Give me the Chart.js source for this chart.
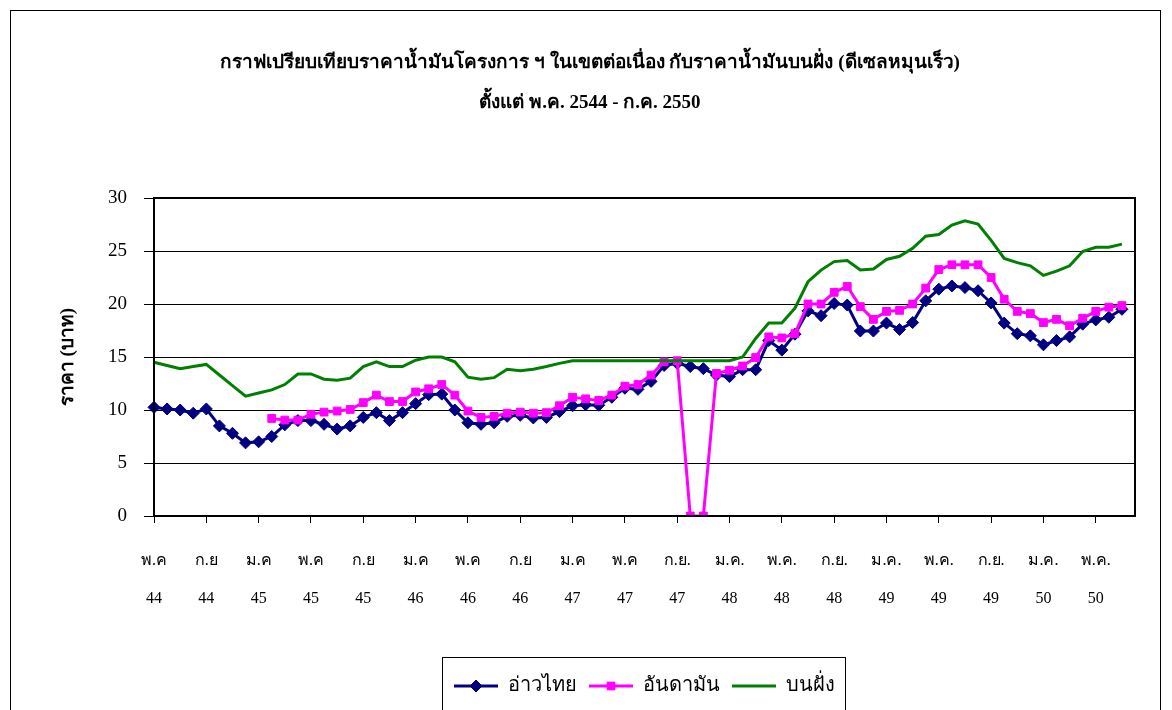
<!DOCTYPE html>
<html>
<head>
<meta charset="utf-8">
<script src="https://cdn.jsdelivr.net/npm/chart.js@4.4.1/dist/chart.umd.min.js"></script>
<style>
    html, body { margin: 0; padding: 0; background: #fff; }
</style>
</head>
<body>
<canvas id="oil-chart" width="1172" height="710"></canvas>
<script>
// monthly prices, May 2544 .. Jul 2550 (75 months)
const gulfThai = [
    10.25, 10.1, 10.0, 9.7, 10.1, 8.5, 7.8, 6.9, 7.0, 7.5,
    8.6, 9.0, 9.0, 8.65, 8.2, 8.5, 9.3, 9.75, 9.0, 9.75,
    10.6, 11.45, 11.5, 10.0, 8.8, 8.65, 8.8, 9.4, 9.5, 9.25,
    9.3, 9.85, 10.4, 10.5, 10.45, 11.2, 12.05, 11.95, 12.7, 14.2,
    14.4, 14.1, 13.9, 13.3, 13.15, 13.8, 13.8, 16.55, 15.65, 17.15,
    19.35, 18.9, 20.05, 19.9, 17.45, 17.45, 18.2, 17.6, 18.25, 20.3,
    21.4, 21.7, 21.55, 21.25, 20.1, 18.2, 17.2, 17.0, 16.15, 16.55,
    16.9, 18.1, 18.5, 18.75, 19.5
];

const andaman = [
    null, null, null, null, null, null, null, null, null, 9.2,
    9.05, 9.05, 9.6, 9.8, 9.9, 10.05, 10.7, 11.4, 10.8, 10.8,
    11.7, 12.0, 12.4, 11.4, 9.9, 9.3, 9.4, 9.7, 9.8, 9.7,
    9.75, 10.4, 11.2, 11.05, 10.9, 11.4, 12.25, 12.4, 13.3, 14.55,
    14.65, 0, 0, 13.45, 13.75, 14.15, 14.95, 16.9, 16.8, 17.2,
    20.0, 20.0, 21.1, 21.65, 19.75, 18.55, 19.3, 19.4, 20.0, 21.5,
    23.25, 23.7, 23.7, 23.7, 22.5, 20.45, 19.3, 19.1, 18.25, 18.55,
    17.95, 18.65, 19.3, 19.7, 19.85
];

const onshore = [
    14.5, 14.2, 13.9, 14.1, 14.3, 13.3, 12.3, 11.3, 11.6, 11.9,
    12.4, 13.4, 13.4, 12.9, 12.8, 13.0, 14.1, 14.55, 14.1, 14.1,
    14.7, 15.0, 15.0, 14.55, 13.1, 12.9, 13.05, 13.85, 13.7, 13.85,
    14.1, 14.4, 14.65, 14.65, 14.65, 14.65, 14.65, 14.65, 14.65, 14.65,
    14.65, 14.65, 14.65, 14.65, 14.65, 15.0, 16.75, 18.2, 18.2, 19.6,
    22.1, 23.2, 24.0, 24.1, 23.2, 23.3, 24.2, 24.5, 25.25, 26.4,
    26.55, 27.45, 27.85, 27.55, 26.0, 24.3, 23.9, 23.6, 22.7, 23.1,
    23.6, 24.95, 25.35, 25.35, 25.65
];

// one label every 4 months
const tickLabels = [
    ['พ.ค', '44'], ['ก.ย', '44'], ['ม.ค', '45'], ['พ.ค', '45'], ['ก.ย', '45'],
    ['ม.ค', '46'], ['พ.ค', '46'], ['ก.ย', '46'], ['ม.ค', '47'], ['พ.ค', '47'],
    ['ก.ย.', '47'], ['ม.ค.', '48'], ['พ.ค.', '48'], ['ก.ย.', '48'], ['ม.ค.', '49'],
    ['พ.ค.', '49'], ['ก.ย.', '49'], ['ม.ค.', '50'], ['พ.ค.', '50']
];

const seriesNames = ['อ่าวไทย', 'อันดามัน', 'บนฝั่ง'];
const titleLines = [
    'กราฟเปรียบเทียบราคาน้ำมันโครงการ ฯ ในเขตต่อเนื่อง กับราคาน้ำมันบนฝั่ง (ดีเซลหมุนเร็ว)',
    'ตั้งแต่ พ.ค. 2544 - ก.ค. 2550'
];

// 76 category slots, the last one is empty
let categories = [];
for (let i = 0; i < 76; i++)
{
    categories.push(i % 4 === 0 && tickLabels[i / 4] ? tickLabels[i / 4] : '');
}

const serif = "'Times New Roman', 'Liberation Serif', serif";

const framePlugin = {
    id: 'frame',
    beforeDraw(chart) {
        const ctx = chart.ctx;
        ctx.save();
        ctx.fillStyle = '#fff';
        ctx.fillRect(0, 0, chart.width, chart.height);
        ctx.strokeStyle = '#000';
        ctx.lineWidth = 1;
        ctx.strokeRect(10.5, 10.5, 1150, 720);
        ctx.restore();
    },
    afterDraw(chart) {
        const ctx = chart.ctx;
        const a = chart.chartArea;
        ctx.save();
        ctx.strokeStyle = '#000';
        ctx.lineWidth = 2;
        ctx.strokeRect(a.left, a.top, a.right - a.left, a.bottom - a.top);

        // legend frame + markers
        const legend = chart.legend;
        const boxes = legend.legendHitBoxes;
        if (boxes.length)
        {
            const first = boxes[0];
            const last = boxes[boxes.length - 1];
            ctx.lineWidth = 1;
            ctx.strokeRect(first.left - 11.5, legend.top - 6.5, last.left + last.width - first.left + 22, 80);

            boxes.forEach((hb, i) => {
                const ds = chart.data.datasets[legend.legendItems[i].datasetIndex];
                if (!ds.pointRadius) return;
                ctx.fillStyle = ds.borderColor;
                ctx.strokeStyle = ds.borderColor;
                Chart.helpers.drawPoint(ctx, {pointStyle: ds.pointStyle, radius: ds.pointRadius, borderWidth: 1, rotation: 0}, hb.left + 22, hb.top + 10);
            });
        }
        ctx.restore();
    }
};

new Chart(document.getElementById('oil-chart'), {
    type: 'line',
    data: {
        labels: categories,
        datasets: [
            {
                label: seriesNames[0],
                data: gulfThai,
                borderColor: '#000080',
                backgroundColor: '#000080',
                borderWidth: 3,
                pointStyle: 'rectRot',
                pointRadius: 6,
                pointBorderWidth: 1,
                order: 3
            },
            {
                label: seriesNames[1],
                data: andaman,
                borderColor: '#ff00ff',
                backgroundColor: '#ff00ff',
                borderWidth: 3,
                pointStyle: 'rect',
                pointRadius: 5.5,
                pointBorderWidth: 1,
                order: 2
            },
            {
                label: seriesNames[2],
                data: onshore,
                borderColor: '#008000',
                backgroundColor: '#008000',
                borderWidth: 3,
                pointRadius: 0,
                order: 1
            }
        ]
    },
    options: {
        responsive: false,
        animation: false,
        devicePixelRatio: 1,
        layout: {
            padding: {left: 45, right: 37, top: 0, bottom: 4}
        },
        plugins: {
            title: {
                display: true,
                text: titleLines,
                color: '#000',
                font: {family: serif, size: 19, weight: 'bold', lineHeight: '40px'},
                padding: {top: 43, bottom: 75}
            },
            legend: {
                position: 'bottom',
                fullSize: false,
                labels: {
                    color: '#000',
                    font: {family: serif, size: 20},
                    boxWidth: 44,
                    boxHeight: 3,
                    padding: 12,
                    sort: (a, b) => a.datasetIndex - b.datasetIndex,
                    generateLabels: function(chart) {
                        const items = Chart.defaults.plugins.legend.labels.generateLabels(chart);
                        items.forEach(item => {
                            item.fillStyle = item.strokeStyle;
                            item.lineWidth = 0;
                        });
                        return items;
                    }
                }
            },
            tooltip: {enabled: false}
        },
        scales: {
            x: {
                offset: false,
                afterFit: function(scale) { scale.height = 148; },
                grid: {
                    drawOnChartArea: false,
                    drawTicks: true,
                    tickLength: 7,
                    tickColor: (c) => c.index % 4 === 0 ? '#000' : 'rgba(0,0,0,0)'
                },
                border: {color: '#000', width: 2},
                ticks: {
                    autoSkip: false,
                    maxRotation: 0,
                    padding: 19,
                    color: '#000',
                    font: {family: serif, size: 16, lineHeight: '38px'}
                }
            },
            y: {
                min: 0,
                max: 30,
                afterFit: function(scale) { scale.width = 109; },
                grid: {color: '#000', lineWidth: 1, tickLength: 10, tickColor: '#000'},
                border: {color: '#000', width: 2},
                ticks: {
                    stepSize: 5,
                    padding: 17,
                    color: '#000',
                    font: {family: serif, size: 19}
                },
                title: {
                    display: true,
                    text: 'ราคา (บาท)',
                    color: '#000',
                    font: {family: serif, size: 19, weight: 'bold'},
                    padding: {top: 12, bottom: 0}
                }
            }
        }
    },
    plugins: [framePlugin]
});
</script>
</body>
</html>
